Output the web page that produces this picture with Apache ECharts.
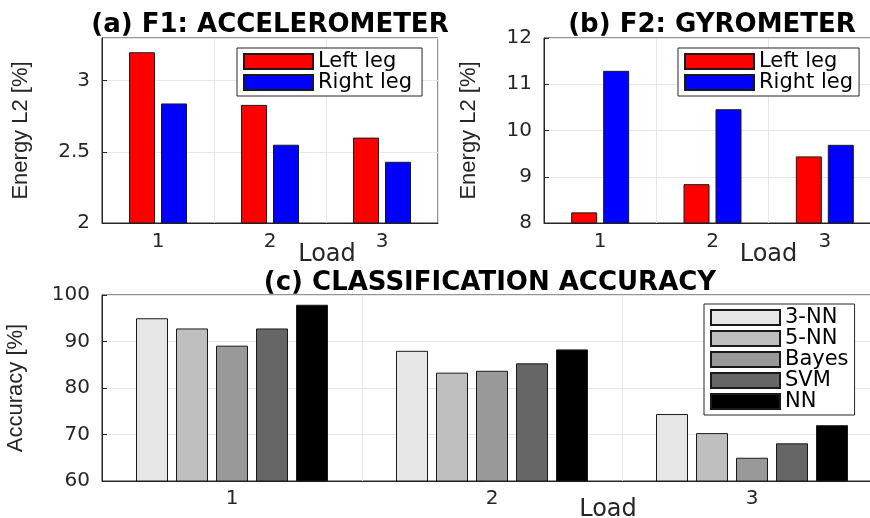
<!DOCTYPE html>
<html>
<head>
<meta charset="utf-8">
<title>Energy L2 and classification accuracy</title>
<script src="https://cdn.jsdelivr.net/npm/echarts@6/dist/echarts.min.js"></script>
<style>
    html, body { margin: 0; padding: 0; background: #fff; }
    #energy_accuracy { width: 870px; height: 518px; }
</style>
</head>
<body>
<div id="energy_accuracy"></div>
<script>

// Chart data
// ------------------------------

var loadCategories = ['1', '2', '3'];

// (a) accelerometer, energy L2 [%]
var accLeftLeg = [3.20, 2.83, 2.60];
var accRightLeg = [2.84, 2.55, 2.43];

// (b) gyrometer, energy L2 [%]
var gyroLeftLeg = [8.23, 8.84, 9.44];
var gyroRightLeg = [11.29, 10.46, 9.69];

// (c) classification accuracy [%]
var classifierNames = ['3-NN', '5-NN', 'Bayes', 'SVM', 'NN'];
var classifierColors = ['#e6e6e6', '#bfbfbf', '#999999', '#666666', '#000000'];
var accuracyValues = [
    [95.0, 88.0, 74.4],   // 3-NN
    [92.8, 83.3, 70.3],   // 5-NN
    [89.1, 83.7, 65.0],   // Bayes
    [92.8, 85.3, 68.1],   // SVM
    [97.9, 88.3, 72.0]    // NN
];


// Setup module
// ------------------------------

var EnergyAccuracyCharts = function() {

    var frameColor = '#262626';
    var gridColor = '#e6e6e6';
    var barBorder = '#1a1a1a';
    var labelFont = 'DejaVu Sans, sans-serif';
    var nameFont = "'Liberation Sans', Arial, sans-serif";

    // Category (Load) axis
    var loadAxis = function(gridIndex, margin, nameGap, nameShift) {
        return {
            type: 'category',
            gridIndex: gridIndex,
            data: loadCategories,
            boundaryGap: true,
            name: 'Load',
            nameLocation: 'middle',
            nameGap: nameGap,
            nameMoveOverlap: false,
            nameTextStyle: {
                color: frameColor,
                fontFamily: labelFont,
                fontSize: 24,
                padding: [0, 0, 0, nameShift]
            },
            axisLine: { lineStyle: { color: frameColor, width: 1 } },
            axisTick: {
                alignWithLabel: true,
                inside: true,
                length: 5,
                lineStyle: { color: frameColor }
            },
            axisLabel: {
                color: frameColor,
                fontFamily: labelFont,
                fontSize: 20,
                margin: margin
            },
            splitLine: { show: true, lineStyle: { color: gridColor } }
        };
    };

    // Value axis
    var valueAxis = function(gridIndex, min, max, interval, name, nameGap, showMax) {
        return {
            type: 'value',
            gridIndex: gridIndex,
            min: min,
            max: max,
            interval: interval,
            name: name,
            nameLocation: 'middle',
            nameGap: nameGap,
            nameMoveOverlap: false,
            nameTextStyle: {
                color: frameColor,
                fontFamily: nameFont,
                fontSize: 22
            },
            axisLine: { show: true, lineStyle: { color: frameColor, width: 1 } },
            axisTick: {
                show: true,
                inside: true,
                length: 5,
                lineStyle: { color: frameColor }
            },
            axisLabel: {
                color: frameColor,
                fontFamily: labelFont,
                fontSize: 20,
                margin: 12,
                showMaxLabel: showMax
            },
            splitLine: { show: true, lineStyle: { color: gridColor } }
        };
    };

    // Panel title
    var panelTitle = function(text, x, y) {
        return {
            text: text,
            left: x,
            top: y,
            padding: 0,
            textAlign: 'center',
            textVerticalAlign: 'middle',
            textStyle: {
                color: '#000',
                fontFamily: 'DejaVu Sans, sans-serif',
                fontWeight: 'bold',
                fontSize: 26
            }
        };
    };

    // Boxed legend
    var boxLegend = function(names, x, y, rightPad) {
        return {
            data: names,
            orient: 'vertical',
            left: x,
            top: y,
            itemWidth: 69,
            itemHeight: 15,
            itemGap: 0,
            itemTextGap: 6,
            padding: [3, rightPad, 3, 6],
            backgroundColor: '#fff',
            borderColor: frameColor,
            borderWidth: 1,
            borderRadius: 0,
            selectedMode: false,
            icon: 'rect',
            textStyle: {
                color: '#000',
                fontFamily: labelFont,
                fontSize: 21,
                lineHeight: 21
            }
        };
    };

    // Plot panel, kept at its exact size (the right edge runs past the page)
    var panelGrid = function(left, top, width, height) {
        return {
            left: left,
            top: top,
            width: width,
            height: height,
            outerBoundsMode: 'none',
            containLabel: false,
            show: true,
            borderColor: frameColor,
            borderWidth: 1
        };
    };

    var barSeries = function(name, data, color, axisIndex, width, gap) {
        return {
            name: name,
            type: 'bar',
            xAxisIndex: axisIndex,
            yAxisIndex: axisIndex,
            data: data,
            barWidth: width,
            barGap: gap,
            itemStyle: {
                color: color,
                borderColor: barBorder,
                borderWidth: 1
            },
            emphasis: { disabled: true }
        };
    };

    var _energyAccuracyExample = function() {
        if (typeof echarts == 'undefined') {
            console.warn('Warning - echarts.min.js is not loaded.');
            return;
        }

        var chart_element = document.getElementById('energy_accuracy');
        if (!chart_element) {
            return;
        }

        var chart = echarts.init(chart_element, null, { renderer: 'canvas' });

        // Classifier series for panel (c)
        var accuracySeries = classifierNames.map(function(name, i) {
            return barSeries(name, accuracyValues[i], classifierColors[i], 2, 32, '25%');
        });

        chart.setOption({
            animation: false,

            title: [
                panelTitle('(a) F1: ACCELEROMETER', 270, 25),
                panelTitle('(b) F2: GYROMETER', 712, 25),
                panelTitle('(c) CLASSIFICATION ACCURACY', 490, 283)
            ],

            legend: [
                boxLegend(['Left leg', 'Right leg'], 237, 48, 10),
                boxLegend(['Left leg', 'Right leg'], 678, 48, 6),
                boxLegend(classifierNames, 704, 304, 6)
            ],

            grid: [
                panelGrid(102, 38, 336, 185),
                panelGrid(544, 38, 337, 185),
                panelGrid(102, 295, 780, 186)
            ],

            xAxis: [
                loadAxis(0, 9, 20, 114),
                loadAxis(1, 9, 20, 112),
                loadAxis(2, 8, 17, 232)
            ],

            yAxis: [
                valueAxis(0, 2, 3.3, 0.5, 'Energy L2 [%]', 70, false),
                valueAxis(1, 8, 12, 1, 'Energy L2 [%]', 64, true),
                valueAxis(2, 60, 100, 10, 'Accuracy [%]', 75, true)
            ],

            series: [
                barSeries('Left leg', accLeftLeg, '#ff0000', 0, 26, '23%'),
                barSeries('Right leg', accRightLeg, '#0000ff', 0, 26, '23%'),
                barSeries('Left leg', gyroLeftLeg, '#ff0000', 1, 26, '23%'),
                barSeries('Right leg', gyroRightLeg, '#0000ff', 1, 26, '23%')
            ].concat(accuracySeries)
        });

        var resizeChart;
        window.addEventListener('resize', function() {
            clearTimeout(resizeChart);
            resizeChart = setTimeout(function() {
                chart.resize();
            }, 200);
        });
    };

    return {
        init: function() {
            _energyAccuracyExample();
        }
    };
}();


// Initialize module
// ------------------------------

document.addEventListener('DOMContentLoaded', function() {
    EnergyAccuracyCharts.init();
});
</script>
</body>
</html>
